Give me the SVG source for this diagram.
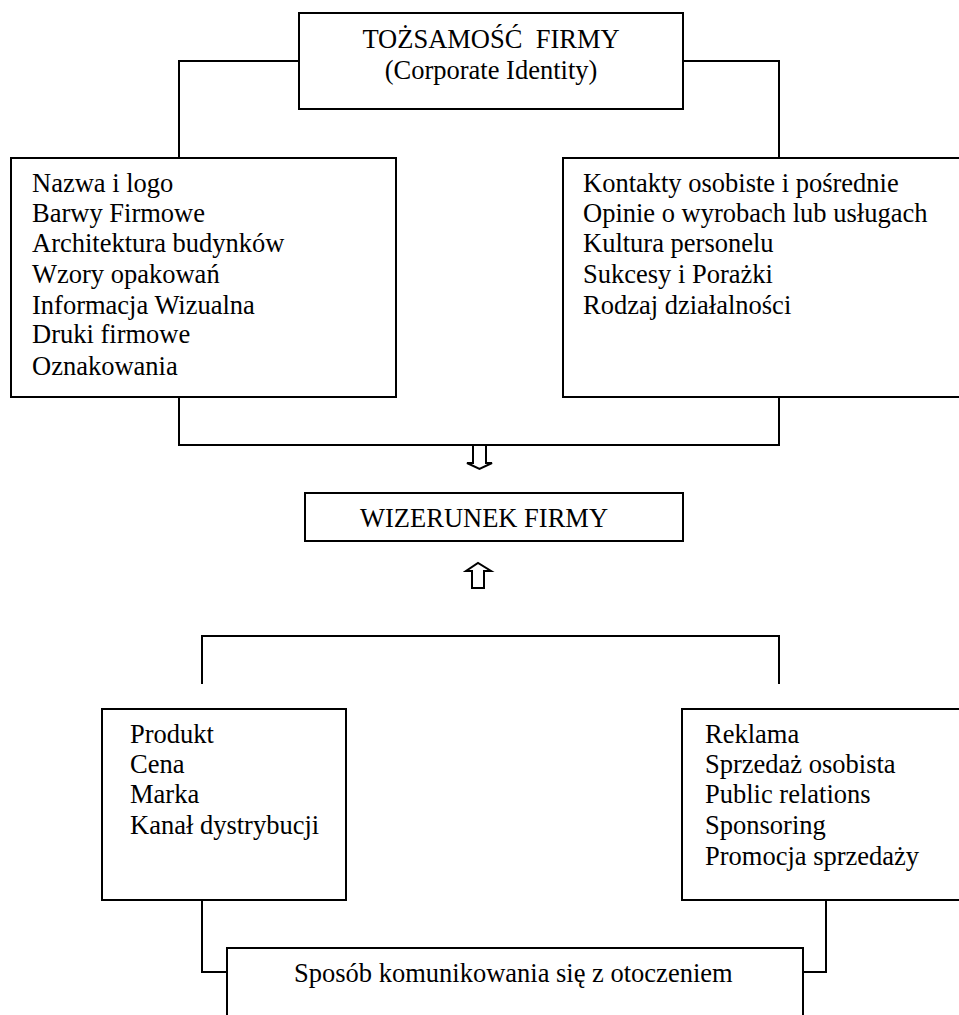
<svg xmlns="http://www.w3.org/2000/svg" width="959" height="1015" viewBox="0 0 959 1015">
<style>
.box{fill:#fff;stroke:#000;stroke-width:2}
.ln{fill:none;stroke:#000;stroke-width:2}
.arr{fill:#fff;stroke:#000;stroke-width:2;stroke-linejoin:miter}
text{font-family:"Liberation Serif","Times New Roman",serif;font-size:26.5px;fill:#000}
.c{text-anchor:middle}
</style>
<rect width="959" height="1015" fill="#fff"/>
<g id="connectors">
<path class="ln" d="M179,157 V61 H299 M683,61 H779 V157"/>
<path class="ln" d="M179,397 V445 H779 V397"/>
<path class="ln" d="M202,684 V636 H779 V684"/>
<path class="ln" d="M202,900 V972 H227 M826,900 V972 H803"/>
<polygon class="arr" points="473,445 486,445 486,463 492,463 479.5,469 467,463 473,463"/>
<polygon class="arr" points="472,588 484,588 484,571 491,571 478,563 466,571 472,571"/>
</g>
<g id="tozsamosc">
<rect class="box" x="299" y="13" width="384" height="96"/>
<text class="c" x="491" y="48">TOŻSAMOŚĆ&#160; FIRMY</text>
<text class="c" x="491" y="79">(Corporate Identity)</text>
</g>
<g id="wizualne">
<rect class="box" x="11" y="158" width="385" height="239"/>
<text x="32" y="192">Nazwa i logo</text>
<text x="32" y="222">Barwy Firmowe</text>
<text x="32" y="252">Architektura budynków</text>
<text x="32" y="283">Wzory opakowań</text>
<text x="32" y="314">Informacja Wizualna</text>
<text x="32" y="343">Druki firmowe</text>
<text x="32" y="375">Oznakowania</text>
</g>
<g id="kontakty">
<rect class="box" x="563" y="158" width="400" height="239"/>
<text x="583" y="192">Kontakty osobiste i pośrednie</text>
<text x="583" y="222">Opinie o wyrobach lub usługach</text>
<text x="583" y="252">Kultura personelu</text>
<text x="583" y="283">Sukcesy i Porażki</text>
<text x="583" y="314">Rodzaj działalności</text>
</g>
<g id="wizerunek">
<rect class="box" x="305" y="493" width="378" height="48"/>
<text x="360" y="527">WIZERUNEK FIRMY</text>
</g>
<g id="produkt">
<rect class="box" x="102" y="709" width="244" height="191"/>
<text x="130" y="743">Produkt</text>
<text x="130" y="773">Cena</text>
<text x="130" y="803">Marka</text>
<text x="130" y="834">Kanał dystrybucji</text>
</g>
<g id="promocja">
<rect class="box" x="682" y="709" width="281" height="191"/>
<text x="705" y="743">Reklama</text>
<text x="705" y="773">Sprzedaż osobista</text>
<text x="705" y="803">Public relations</text>
<text x="705" y="834">Sponsoring</text>
<text x="705" y="865">Promocja sprzedaży</text>
</g>
<g id="sposob">
<rect class="box" x="227" y="948" width="576" height="80"/>
<text x="294" y="982">Sposób komunikowania się z otoczeniem</text>
</g>
</svg>
